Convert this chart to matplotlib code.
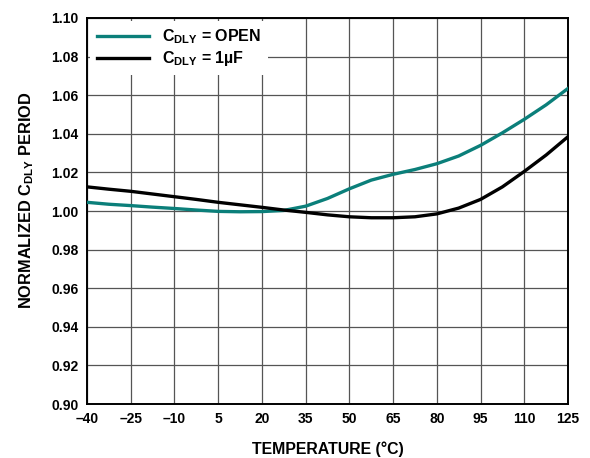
import numpy as np
import matplotlib.pyplot as plt

plt.rcParams["font.family"] = ["Liberation Sans", "DejaVu Sans"]
plt.rcParams["font.weight"] = "bold"
plt.rcParams["mathtext.fontset"] = "custom"
plt.rcParams["mathtext.rm"] = "Liberation Sans:bold"
plt.rcParams["mathtext.bf"] = "Liberation Sans:bold"

# temperature sweep (deg C)
temperature = [-40, -32.5, -25, -17.5, -10, -2.5, 5, 12.5, 20, 27.5, 35, 42.5,
               50, 57.5, 65, 72.5, 80, 87.5, 95, 102.5, 110, 117.5, 125]

# normalized delay period, C_DLY open
period_open = [1.0045, 1.0035, 1.0028, 1.0020, 1.0013, 1.0005, 0.9998, 0.9996,
               0.9997, 1.0003, 1.0025, 1.0065, 1.0115, 1.0160, 1.0190, 1.0215,
               1.0245, 1.0285, 1.0340, 1.0405, 1.0475, 1.0550, 1.0635]

# normalized delay period, C_DLY = 1uF
period_1uf = [1.0125, 1.0113, 1.0102, 1.0088, 1.0074, 1.0060, 1.0045, 1.0032,
              1.0019, 1.0005, 0.9993, 0.9980, 0.9970, 0.9965, 0.9965, 0.9970,
              0.9985, 1.0015, 1.0060, 1.0125, 1.0205, 1.0290, 1.0385]

x_ticks = [-40, -25, -10, 5, 20, 35, 50, 65, 80, 95, 110, 125]
x_ticklabels = ["–40", "–25", "–10", "5", "20", "35", "50", "65", "80", "95", "110", "125"]
y_ticks = np.round(np.arange(0.90, 1.1001, 0.02), 2)

fig = plt.figure(figsize=(5.9, 4.58), dpi=100)
ax = fig.add_axes([0.1475, 0.1179, 0.8152, 0.8428])

ax.plot(temperature, period_open, color="#0b7f7a", linewidth=2.4,
        label=r"C$_\mathbf{DLY}$ = OPEN", zorder=3)
ax.plot(temperature, period_1uf, color="black", linewidth=2.4,
        label=r"C$_\mathbf{DLY}$ = 1µF", zorder=3)

ax.set_xlim(-40, 125)
ax.set_ylim(0.90, 1.10)
ax.set_xticks(x_ticks)
ax.set_xticklabels(x_ticklabels)
ax.set_yticks(y_ticks)
ax.set_yticklabels(["%.2f" % v for v in y_ticks])
ax.tick_params(length=0, labelsize=10, pad=6)

ax.grid(True, color="#555555", linewidth=0.9)
for spine in ax.spines.values():
    spine.set_linewidth(1.4)
    spine.set_color("black")

ax.set_xlabel("TEMPERATURE (°C)", fontsize=11.4, fontweight="bold", labelpad=11)
ax.set_ylabel(r"NORMALIZED C$_\mathbf{DLY}$ PERIOD", fontsize=11.8,
              fontweight="bold")
ax.yaxis.set_label_coords(-0.106, 0.528)

leg = ax.legend(loc="upper left", bbox_to_anchor=(0.0, 1.0), frameon=True,
                fancybox=False, fontsize=11.5, handlelength=3.3,
                handletextpad=0.8, borderaxespad=0.2, labelspacing=0.2)
leg.get_frame().set_edgecolor("none")
leg.get_frame().set_facecolor("white")
leg.get_frame().set_alpha(1.0)

fig.savefig("out.png", dpi=100)
